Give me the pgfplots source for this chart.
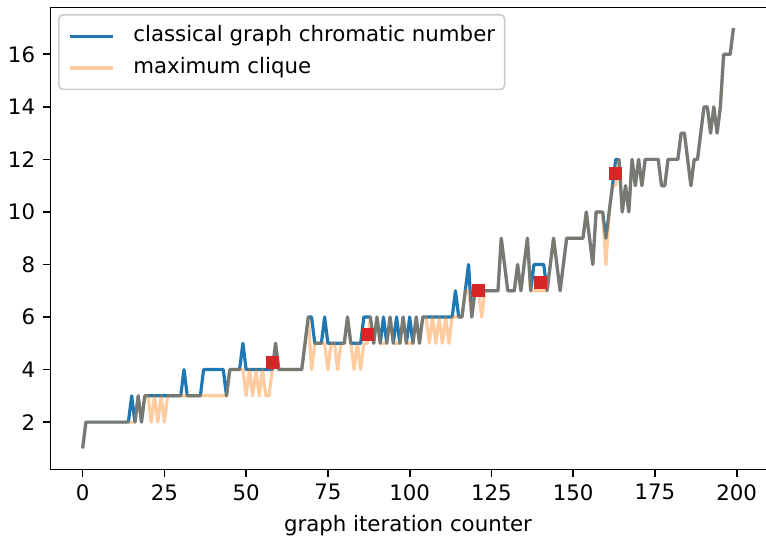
\documentclass[border=0pt]{standalone}
\usepackage{pgfplots}
\pgfplotsset{compat=1.18}
\usepackage{pgfplotstable}
\usepackage{fontspec}
\setmainfont{DejaVu Sans}

\definecolor{tabblue}{HTML}{1F77B4}
\definecolor{taborange}{HTML}{FF7F0E}
\definecolor{tabred}{HTML}{D62728}

% x  chromatic  clique
\pgfplotstableread{
x b o
0 1 1
1 2 2
2 2 2
3 2 2
4 2 2
5 2 2
6 2 2
7 2 2
8 2 2
9 2 2
10 2 2
11 2 2
12 2 2
13 2 2
14 2 2
15 3 2
16 2 2
17 3 3
18 2 2
19 3 3
20 3 3
21 3 2
22 3 3
23 3 2
24 3 3
25 3 2
26 3 3
27 3 3
28 3 3
29 3 3
30 3 3
31 4 3
32 3 3
33 3 3
34 3 3
35 3 3
36 3 3
37 4 3
38 4 3
39 4 3
40 4 3
41 4 3
42 4 3
43 4 3
44 3 3
45 4 4
46 4 4
47 4 4
48 4 4
49 5 4
50 4 3
51 4 4
52 4 3
53 4 4
54 4 3
55 4 4
56 4 3
57 4 3
58 4 4
59 5 5
60 4 4
61 4 4
62 4 4
63 4 4
64 4 4
65 4 4
66 4 4
67 4 4
68 5 5
69 6 6
70 6 4
71 5 5
72 5 5
73 5 5
74 6 5
75 5 4
76 5 5
77 5 5
78 5 4
79 5 5
80 5 5
81 6 6
82 5 5
83 5 4
84 5 5
85 5 4
86 6 5
87 6 5
88 6 6
89 5 5
90 6 6
91 5 5
92 6 5
93 5 5
94 6 6
95 5 5
96 6 5
97 5 5
98 6 6
99 5 5
100 6 5
101 5 5
102 6 6
103 5 5
104 6 6
105 6 6
106 6 5
107 6 6
108 6 5
109 6 6
110 6 5
111 6 6
112 6 5
113 6 6
114 7 6
115 6 6
116 6 6
117 7 7
118 8 7
119 6 6
120 7 7
121 7 7
122 7 6
123 7 7
124 7 7
125 7 7
126 7 7
127 7 7
128 9 9
129 8 8
130 7 7
131 7 7
132 7 7
133 8 8
134 7 7
135 8 8
136 9 9
137 7 7
138 8 7
139 8 7
140 8 7
141 8 7
142 7 7
143 8 8
144 9 9
145 8 8
146 7 7
147 8 8
148 9 9
149 9 9
150 9 9
151 9 9
152 9 9
153 9 9
154 10 10
155 9 9
156 8 8
157 10 10
158 10 10
159 10 10
160 9 8
161 10 10
162 11 11
163 12 11
164 12 12
165 10 10
166 11 11
167 10 10
168 12 12
169 11 11
170 12 12
171 11 11
172 12 12
173 12 12
174 12 12
175 12 12
176 12 12
177 11 11
178 11 11
179 12 12
180 12 12
181 12 12
182 12 12
183 13 13
184 13 13
185 12 12
186 11 11
187 12 12
188 12 12
189 13 13
190 14 14
191 14 14
192 13 13
193 14 14
194 13 13
195 14 14
196 16 16
197 16 16
198 16 16
199 17 17
}\chrom

\begin{document}
\begin{tikzpicture}
\begin{axis}[
    scale only axis,
    width=336pt, height=217pt,
    xmin=-9.95, xmax=208.95,
    ymin=0.2, ymax=17.8,
    xtick={0,25,...,200},
    ytick={2,4,...,16},
    tick pos=left,
    tick align=outside,
    major tick length=3.5pt,
    tick style={black, line width=0.8pt},
    axis line style={draw=none},
    /pgf/number format/assume math mode=true,
    xlabel={graph iteration counter},
    legend cell align=left,
    legend image code/.code={
        \draw[#1, line width=1.5pt] (0pt,0pt) -- (20pt,0pt);
        \path (29pt,0pt);
    },
    legend style={
        at={(0.011,0.985)}, anchor=north west,
        draw=black!20, line width=0.8pt, rounded corners=2pt,
        fill=white, fill opacity=0.8, text opacity=1,
        inner xsep=4.5pt, inner ysep=5pt,
        nodes={inner sep=0pt, text height=7.6pt, text depth=2.4pt},
        row sep=5pt,
    },
]
\addplot[tabblue, line width=1.5pt, line join=round] table[x=x, y=b] {\chrom};
\addlegendentry{classical graph chromatic number}
\addplot[taborange, opacity=0.4, line width=1.5pt, line join=round] table[x=x, y=o] {\chrom};
\addlegendentry{maximum clique}
\addplot[only marks, mark=square*, mark size=2.8pt, tabred, forget plot] coordinates {
    (58,4.27) (87,5.33) (121,7.0) (140,7.3) (163,11.46)
};
\draw[black, line width=0.8pt] (rel axis cs:1,1) -- (rel axis cs:0,1) -- (rel axis cs:0,0) -- (rel axis cs:1,0);
\end{axis}
\path ([xshift=-23.5pt, yshift=3.3pt]current axis.north west);
\end{tikzpicture}
\end{document}
